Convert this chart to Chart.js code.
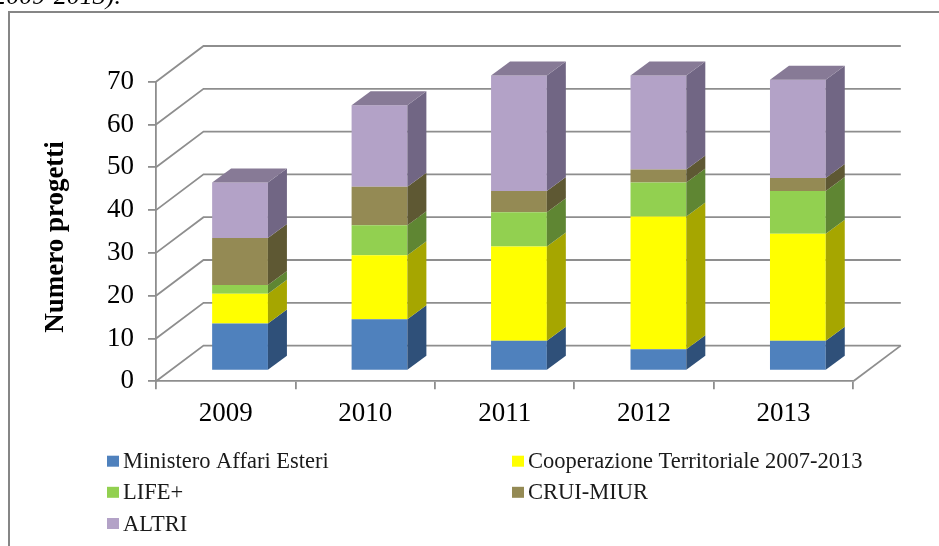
<!DOCTYPE html>
<html>
<head>
<meta charset="utf-8">
<style>html,body{margin:0;padding:0;background:#fff}canvas{display:block;filter:blur(0.4px)}</style>
<script src="https://cdn.jsdelivr.net/npm/chart.js@4"></script>
</head>
<body>
<canvas id="c" width="939" height="546"></canvas>
<script>
const years = ['2009','2010','2011','2012','2013'];
const ministero = [11,12,7,5,7];
const cooperazione = [7,15,22,31,25];
const life = [2,7,8,8,10];
const crui = [11,9,5,3,3];
const altri = [13,19,27,22,23];
const seriesNames = ['Ministero Affari Esteri','Cooperazione Territoriale 2007-2013','LIFE+','CRUI-MIUR','ALTRI'];
const frontColors = ['#4F81BD','#FFFF00','#92D050','#948A54','#B3A2C7'];
const sideColors = ['#2F5079','#A6A600','#5F8633','#5E5833','#716684'];
const topColor = '#877A96';
const axisColor = '#8E8E8E';
const caption = '(2009-2013).';
const axisTitle = 'Numero progetti';

const WALL_DX = 47.5, WALL_DY = 35.7;     // depth of the floor in pixels
const BAR_SHIFT_X = 14.3, BAR_SHIFT_Y = 10.6; // bars stand inside the floor
const BAR_DX = 19, BAR_DY = 14;           // depth of each bar

const serif = '"Liberation Serif","Times New Roman",serif';

const depth3d = {
  id: 'depth3d',
  beforeDraw(chart) {
    const ctx = chart.ctx;
    ctx.save();
    // frame
    ctx.strokeStyle = '#868686';
    ctx.lineWidth = 2;
    ctx.beginPath();
    ctx.moveTo(9, 560); ctx.lineTo(9, 12); ctx.lineTo(950, 12);
    ctx.stroke();
    // clipped caption above the frame
    ctx.fillStyle = '#000';
    ctx.font = 'italic 26px ' + serif;
    ctx.textAlign = 'right';
    ctx.textBaseline = 'alphabetic';
    ctx.fillText(caption, 121, 4);
    ctx.restore();
  },
  beforeDatasetsDraw(chart) {
    const ctx = chart.ctx, y = chart.scales.y, a = chart.chartArea;
    ctx.save();
    ctx.strokeStyle = axisColor;
    ctx.lineWidth = 1.8;
    y.ticks.forEach(t => {
      const py = y.getPixelForValue(t.value);
      ctx.beginPath();
      ctx.moveTo(a.left, py);
      ctx.lineTo(a.left + WALL_DX, py - WALL_DY);
      ctx.lineTo(a.right + WALL_DX, py - WALL_DY);
      ctx.stroke();
    });
    const p0 = y.getPixelForValue(0);
    ctx.beginPath();
    ctx.moveTo(a.right, p0);
    ctx.lineTo(a.right + WALL_DX, p0 - WALL_DY);
    ctx.stroke();
    ctx.restore();
    ctx.save();
    ctx.translate(BAR_SHIFT_X, -BAR_SHIFT_Y);
  },
  afterDatasetsDraw(chart) {
    const ctx = chart.ctx;
    chart.data.datasets.forEach((ds, i) => {
      chart.getDatasetMeta(i).data.forEach(el => {
        const r = el.x + el.width / 2, l = el.x - el.width / 2;
        ctx.fillStyle = sideColors[i];
        ctx.beginPath();
        ctx.moveTo(r, el.base);
        ctx.lineTo(r + BAR_DX, el.base - BAR_DY);
        ctx.lineTo(r + BAR_DX, el.y - BAR_DY);
        ctx.lineTo(r, el.y);
        ctx.closePath();
        ctx.fill();
        if (i === chart.data.datasets.length - 1) {
          ctx.fillStyle = topColor;
          ctx.beginPath();
          ctx.moveTo(l, el.y);
          ctx.lineTo(l + BAR_DX, el.y - BAR_DY);
          ctx.lineTo(r + BAR_DX, el.y - BAR_DY);
          ctx.lineTo(r, el.y);
          ctx.closePath();
          ctx.fill();
        }
      });
    });
    ctx.restore();
  },
  afterDraw(chart) {
    const ctx = chart.ctx;
    // axis title
    ctx.save();
    ctx.translate(56, 237);
    ctx.rotate(-Math.PI / 2);
    ctx.font = 'bold 27px ' + serif;
    ctx.textAlign = 'center';
    ctx.textBaseline = 'middle';
    ctx.fillStyle = '#000';
    ctx.fillText(axisTitle, 0, 0);
    ctx.restore();
    // two-column legend
    const cols = [107, 512], rows = [455.7, 486.8, 518];
    ctx.save();
    ctx.font = '22.5px ' + serif;
    ctx.textAlign = 'left';
    ctx.textBaseline = 'alphabetic';
    chart.data.datasets.forEach((ds, i) => {
      const cx = cols[i % 2], ry = rows[Math.floor(i / 2)];
      ctx.fillStyle = ds.backgroundColor;
      ctx.fillRect(cx, ry, 12, 11);
      ctx.fillStyle = '#1a1a1a';
      ctx.fillText(ds.label, cx + 16, ry + 12.5);
    });
    ctx.restore();
  }
};

const seriesValues = [ministero, cooperazione, life, crui, altri];

new Chart(document.getElementById('c'), {
  type: 'bar',
  data: {
    labels: years,
    datasets: seriesValues.map((v, i) => ({
      label: seriesNames[i],
      data: v,
      backgroundColor: frontColors[i],
      borderWidth: 0,
      clip: false,
      barPercentage: 0.4,
      categoryPercentage: 1
    }))
  },
  plugins: [depth3d],
  options: {
    responsive: false,
    animation: false,
    layout: { padding: { left: 30, top: 81.7, right: 85.7, bottom: 0 } },
    plugins: { legend: { display: false }, tooltip: { enabled: false } },
    scales: {
      x: {
        stacked: true,
        afterFit(s) { s.height = 164.7; },
        grid: { drawOnChartArea: false, drawTicks: true, tickLength: 8, color: axisColor, lineWidth: 1.8 },
        border: { color: axisColor, width: 1.8 },
        ticks: { color: '#000', padding: 8, font: { family: serif, size: 27 }, maxRotation: 0 }
      },
      y: {
        stacked: true,
        min: 0,
        max: 70,
        afterFit(s) { s.width = 126; },
        grid: { drawOnChartArea: false, drawTicks: true, tickLength: 8, color: axisColor, lineWidth: 1.8 },
        border: { color: axisColor, width: 1.8 },
        ticks: { stepSize: 10, color: '#000', padding: 14, font: { family: serif, size: 27 } }
      }
    }
  }
});
</script>
</body>
</html>
